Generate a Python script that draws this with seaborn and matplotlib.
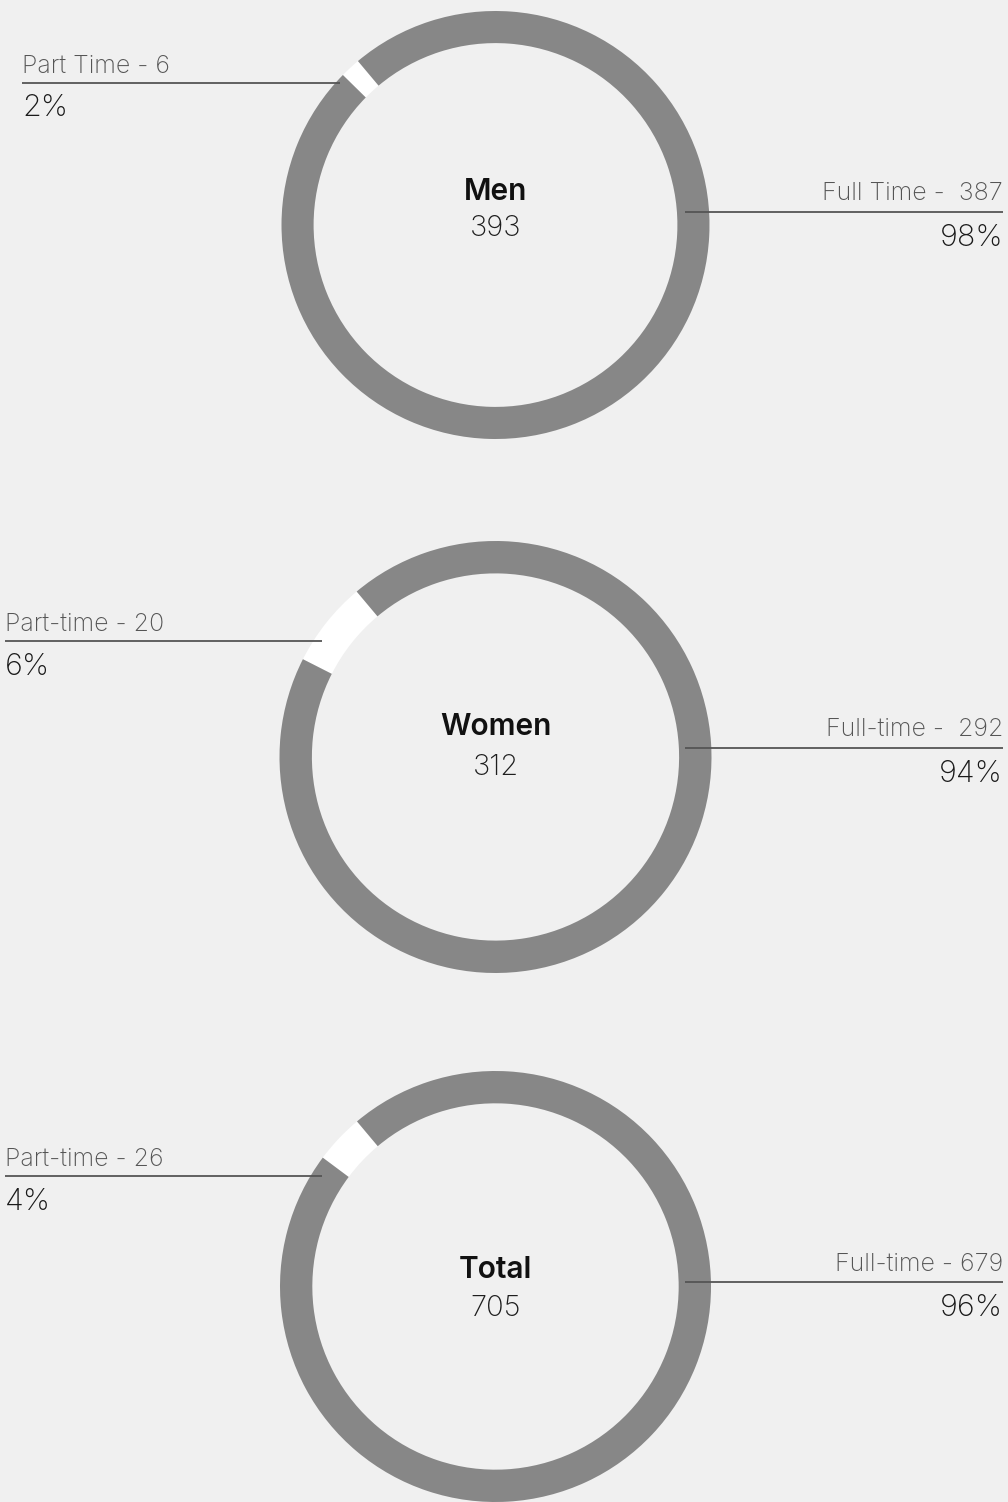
import matplotlib
matplotlib.use("Agg")
import matplotlib.pyplot as plt
import seaborn as sns

# Headcount by contract type
groups = ["Men", "Women", "Total"]
totals = [393, 312, 705]
part_time = [6, 20, 26]
full_time = [387, 292, 679]
part_labels = ["Part Time - 6", "Part-time - 20", "Part-time - 26"]
full_labels = ["Full Time -  387", "Full-time -  292", "Full-time - 679"]

sns.set_theme(style="white")
plt.rcParams["font.family"] = ["Inter", "DejaVu Sans"]

BG = "#f0f0f0"
RING = "#878787"
W, H = 1008, 1502

fig = plt.figure(figsize=(W / 100, H / 100), dpi=100)
fig.patch.set_facecolor(BG)

# overlay in pixel units for leader lines and labels
ov = fig.add_axes([0, 0, 1, 1], zorder=3)
ov.set_xlim(0, W)
ov.set_ylim(H, 0)
ov.axis("off")
ov.patch.set_alpha(0)

cx = 495.5
centers_y = [225, 757, 1286.5]
radii = [214, 216, 215.5]
name_dy = [-25, -22, -9]
num_dy = [11, 18, 29.5]
part_x0 = [22, 5, 5]
part_x1 = [340, 322, 322]
part_line_y = [82.5, 641, 1176]
full_line_y = [212, 747.5, 1282]

for i, g in enumerate(groups):
    cy, R = centers_y[i], radii[i]
    ax = fig.add_axes([(cx - R) / W, 1 - (cy + R) / H, 2 * R / W, 2 * R / H], zorder=1)
    ax.pie([part_time[i], full_time[i]], colors=["white", RING],
           startangle=130, counterclock=True, radius=1,
           wedgeprops=dict(width=0.15, linewidth=0))
    ax.set_xlim(-1, 1)
    ax.set_ylim(-1, 1)
    ax.set_facecolor("none")

    # centre label
    ov.text(cx, cy + name_dy[i], g, ha="center", va="baseline", fontsize=21.5,
            fontweight="semibold", color="#111111")
    ov.text(cx, cy + num_dy[i], f"{totals[i]}", ha="center", va="baseline",
            fontsize=21, fontweight="light", color="#1e1e1e")

    pct_part = round(100 * part_time[i] / totals[i])
    pct_full = round(100 * full_time[i] / totals[i])

    # part-time callout (left)
    py = part_line_y[i]
    ov.plot([part_x0[i], part_x1[i]], [py, py], color="#555555", lw=1.3,
            solid_capstyle="butt")
    ov.text(part_x0[i], py - 10, part_labels[i], ha="left", va="baseline",
            fontsize=18, fontweight="light", color="#555555")
    ov.text(part_x0[i], py + 34, f"{pct_part}%", ha="left", va="baseline",
            fontsize=22, fontweight="light", color="#1a1a1a")

    # full-time callout (right)
    fy = full_line_y[i]
    ov.plot([685, 1003], [fy, fy], color="#555555", lw=1.3, solid_capstyle="butt")
    ov.text(1003, fy - 11.5, full_labels[i], ha="right", va="baseline",
            fontsize=18, fontweight="light", color="#555555")
    ov.text(1003, fy + 34, f"{pct_full}%", ha="right", va="baseline",
            fontsize=22, fontweight="light", color="#1a1a1a")

fig.savefig("out.png", dpi=100, facecolor=BG)
